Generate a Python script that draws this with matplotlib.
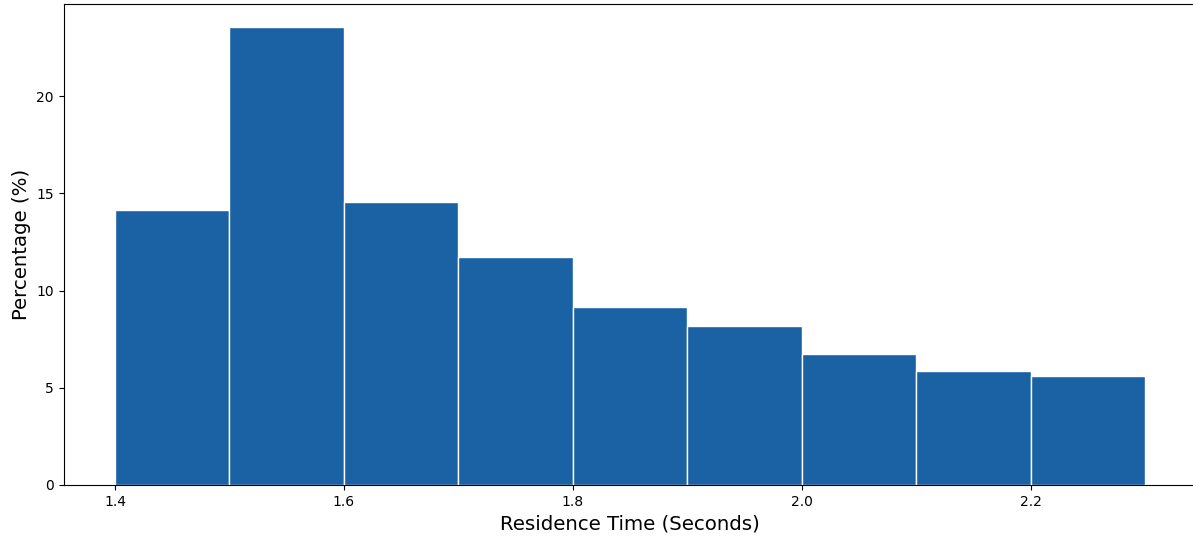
import matplotlib
matplotlib.use("Agg")
import matplotlib.pyplot as plt
import numpy as np

bin_edges = [1.4, 1.5, 1.6, 1.7, 1.8, 1.9, 2.0, 2.1, 2.2, 2.3]
percentages = [14.12, 23.56, 14.54, 11.72, 9.18, 8.20, 6.76, 5.88, 5.62]

fig = plt.figure(figsize=(11.93, 5.37), dpi=100)
ax = fig.add_axes([63.5/1193, 52/537, 1133/1193, 481/537])
centers = [(bin_edges[i] + bin_edges[i+1]) / 2 for i in range(len(percentages))]
ax.hist(centers, bins=bin_edges, weights=percentages, color="#1b62a4",
        edgecolor="white", linewidth=1)
ax.set_xlabel("Residence Time (Seconds)", fontsize=14.2)
ax.set_ylabel("Percentage (%)", fontsize=14.2)
ax.tick_params(labelsize=10)
fig.savefig("out.png", dpi=100)
